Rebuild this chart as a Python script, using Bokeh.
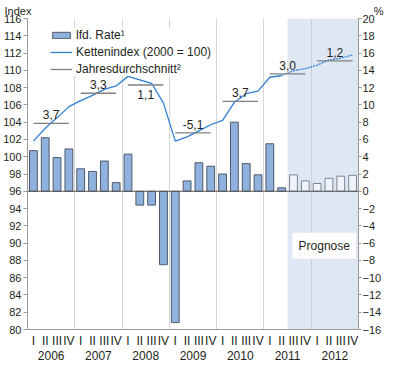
from bokeh.plotting import figure
from bokeh.models import (Range1d, LinearAxis, FixedTicker, Span, Label, Title,
                          Legend, LegendItem, ColumnDataSource)
from bokeh.core.properties import value
from bokeh.embed import file_html
from bokeh.resources import INLINE

# ---------------- data ----------------
years = ["2006", "2007", "2008", "2009", "2010", "2011", "2012"]
quarters = ["I", "II", "III", "IV"]
# laufende Rate, % (right axis), 2006 Q1 ... 2012 Q4
rate = [4.7, 6.2, 3.9, 4.9,
        2.6, 2.3, 3.5, 1.0,
        4.3, -1.6, -1.6, -8.5,
        -15.2, 1.2, 3.3, 2.9,
        2.0, 8.0, 3.2, 1.9,
        5.5, 0.4, 1.9, 1.2,
        0.9, 1.5, 1.75, 1.85]
# Kettenindex (2000 = 100), left axis
index = [101.8, 103.3, 104.5, 105.8,
         106.5, 107.1, 107.8, 108.2,
         109.3, 108.9, 108.5, 106.2,
         101.8, 102.3, 103.0, 103.7,
         104.2, 106.3, 107.3, 107.6,
         109.2, 109.4, 109.95, 110.2,
         110.6, 111.2, 111.4, 111.8]
annual_avg = [103.85, 107.35, 108.3, 102.75, 106.4, 109.6, 111.1]
annual_rate = ["3,7", "3,3", "1,1", "-5,1", "3,7", "3,0", "1,2"]
labels_below = ["2008"]
n_actual = 22  # 2006 Q1 - 2011 Q2 observed, rest Prognose

left_title = "Index"
right_title = "%"
idx_ticks = list(range(80, 117, 2))
pct_ticks = list(range(-16, 21, 2))

FONT = "Liberation Sans"
TXT = "#231f20"
AX = "#9a9a9a"

n = len(rate)
xs = list(range(n))

p = figure(width=384, height=362, output_backend="svg", toolbar_location=None,
           x_range=Range1d(-0.5, n - 0.5),
           y_range=Range1d(idx_ticks[0], idx_ticks[-1]),
           min_border_top=0, min_border_left=2, min_border_right=2,
           min_border_bottom=2)
p.extra_y_ranges = {"pct": Range1d(pct_ticks[0], pct_ticks[-1])}
p.extra_x_ranges = {"yr": Range1d(-0.5, len(years) - 0.5)}
p.outline_line_color = None
p.background_fill_color = "white"
p.border_fill_color = "white"

# axis titles on one header line ("Index" left, "%" right)
p.title = Title(text=left_title + "\u00a0" * 112 + right_title, align="left",
                offset=-23, standoff=4, text_font=FONT, text_font_size="11px",
                text_font_style="normal", text_color=TXT)

def style_axis(a, size="11px"):
    a.major_label_text_font = FONT
    a.major_label_text_font_size = size
    a.major_label_text_color = TXT
    a.minor_tick_line_color = None
    a.axis_line_color = AX
    a.major_tick_line_color = AX
    a.major_tick_in = 0
    a.major_tick_out = 4

lax = p.yaxis[0]
lax.ticker = FixedTicker(ticks=idx_ticks)
style_axis(lax)
lax.major_label_standoff = 2

rax = LinearAxis(y_range_name="pct", ticker=FixedTicker(ticks=pct_ticks))
style_axis(rax)
rax.major_tick_out = 3
rax.major_label_standoff = 1
p.add_layout(rax, "right")

qax = p.xaxis[0]
qax.ticker = FixedTicker(ticks=xs)
qax.major_label_overrides = {i: quarters[i % 4] for i in xs}
style_axis(qax, "12px")
qax.major_tick_line_color = None
qax.major_tick_out = 0
qax.major_label_standoff = 4

yax = LinearAxis(x_range_name="yr", ticker=FixedTicker(ticks=list(range(len(years)))))
yax.major_label_overrides = {i: y for i, y in enumerate(years)}
style_axis(yax, "12px")
yax.axis_line_color = None
yax.major_tick_line_color = None
yax.major_tick_out = 0
yax.major_label_standoff = 0
p.add_layout(yax, "below")

# year boundary grid
p.ygrid.visible = False
p.xgrid.ticker = FixedTicker(ticks=[4 * k - 0.5 for k in range(1, len(years))])
p.xgrid.grid_line_color = "#d6d6d6"
p.xgrid.grid_line_width = 1

# Prognose shading
p.quad(left=[n_actual - 0.5], right=[n - 0.5],
       bottom=[idx_ticks[0]], top=[idx_ticks[-1]],
       fill_color="#b9cae6", fill_alpha=0.45, line_color=None)

# bars
src_a = ColumnDataSource(dict(x=xs[:n_actual], top=rate[:n_actual]))
src_f = ColumnDataSource(dict(x=xs[n_actual:], top=rate[n_actual:]))
bars = p.vbar(x="x", top="top", bottom=0, width=0.66, source=src_a,
              y_range_name="pct", fill_color="#8fb1dd", line_color="#4f586b",
              line_width=1)
p.vbar(x="x", top="top", bottom=0, width=0.66, source=src_f,
       y_range_name="pct", fill_color="white", fill_alpha=0.5,
       line_color="#7f8593", line_width=1)

p.add_layout(Span(location=0, dimension="width", y_range_name="pct",
                  line_color="#555555", line_width=1))

# Kettenindex
line_a = p.line(xs[:n_actual], index[:n_actual], line_color="#2f7fd3",
                line_width=1.3)
p.line(xs[n_actual - 1:], index[n_actual - 1:], line_color="#2f7fd3",
       line_width=1.3, line_dash="2 1")

# Jahresdurchschnitt
seg = p.segment(x0=[4 * k for k in range(len(years))],
                x1=[4 * k + 3 for k in range(len(years))],
                y0=annual_avg, y1=annual_avg,
                line_color="#808080", line_width=1.3)

ab = [k for k, y in enumerate(years) if y not in labels_below]
be = [k for k, y in enumerate(years) if y in labels_below]
p.text(x=[4 * k + 1.5 for k in ab], y=[annual_avg[k] for k in ab],
       text=[annual_rate[k] for k in ab], text_align="center",
       text_baseline="bottom", y_offset=-4, text_font=value(FONT),
       text_font_size="12px", text_color=TXT)
p.text(x=[4 * k + 1.5 for k in be], y=[annual_avg[k] for k in be],
       text=[annual_rate[k] for k in be], text_align="center",
       text_baseline="top", y_offset=5, text_font=value(FONT),
       text_font_size="12px", text_color=TXT)

# Prognose label
p.add_layout(Label(x=24.6, y=89.7, text="Prognose", text_align="center",
                   text_baseline="middle", text_font=FONT,
                   text_font_size="12px", text_color=TXT,
                   background_fill_color="white", background_fill_alpha=1,
                   padding=6))

# legend
legend = Legend(items=[LegendItem(label="lfd. Rate¹", renderers=[bars]),
                       LegendItem(label="Kettenindex (2000 = 100)", renderers=[line_a]),
                       LegendItem(label="Jahresdurchschnitt²", renderers=[seg])],
                location=(23, 253))
legend.border_line_color = None
legend.background_fill_color = "white"
legend.background_fill_alpha = 1
legend.label_text_font = FONT
legend.label_text_font_size = "12px"
legend.label_text_color = TXT
legend.glyph_width = 22
legend.glyph_height = 8
legend.label_height = 14
legend.label_standoff = 4
legend.spacing = 3
legend.padding = 3
legend.margin = 0
p.add_layout(legend)

open("out.html", "w").write(file_html(p, INLINE))
